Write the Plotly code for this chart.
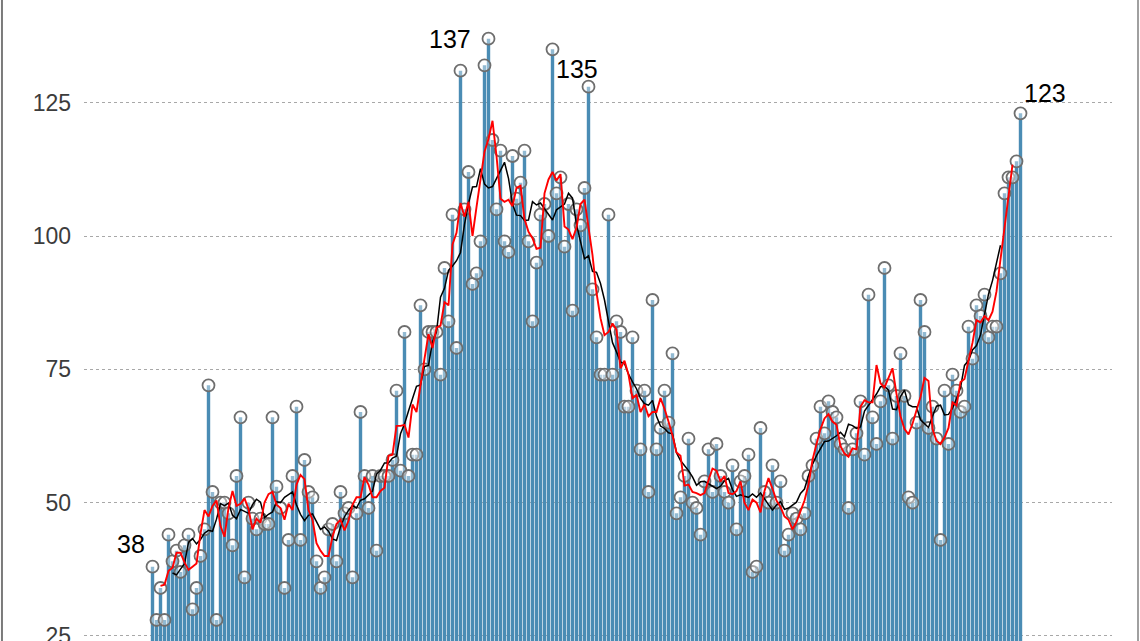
import pandas as pd
import plotly.graph_objects as go

# monthly values (index = position along x)
values = [
    38, 28, 34, 28, 44, 39, 41, 37, 42, 44,
    30, 34, 40, 45, 72, 52, 28, 50, 50, 48,
    42, 55, 66, 36, 50, 47, 45, 47, 46, 46,
    66, 53, 49, 34, 43, 55, 68, 43, 58, 52,
    51, 39, 34, 36, 45, 46, 39, 52, 48, 49,
    36, 48, 67, 55, 49, 55, 41, 55, 55, 55,
    58, 71, 56, 82, 55, 59, 59, 87, 75, 82,
    82, 82, 74, 94, 84, 104, 79, 131, 105, 112,
    91, 93, 99, 132, 137, 118, 105, 116, 99, 97,
    115, 107, 110, 116, 99, 84, 95, 104, 106, 100,
    135, 108, 111, 98, 106, 86, 105, 102, 109, 128,
    90, 81, 74, 74, 104, 74, 84, 82, 68, 68,
    81, 71, 60, 71, 52, 88, 60, 64, 71, 65,
    78, 48, 51, 55, 62, 50, 49, 44, 54, 60,
    52, 61, 55, 52, 50, 57, 45, 54, 55, 59,
    37, 38, 64, 52, 50, 57, 50, 54, 41, 44,
    48, 47, 45, 48, 55, 57, 62, 68, 63, 69,
    67, 66, 61, 60, 49, 60, 63, 69, 59, 89,
    66, 61, 69, 94, 72, 62, 70, 78, 70, 51,
    50, 65, 88, 82, 64, 68, 62, 43, 71, 61,
    74, 71, 67, 68, 83, 77, 87, 85, 89, 81,
    83, 83, 93, 108, 111, 111, 114, 123,
]
x = list(range(len(values)))

# labelled points: index into values
label_idx = [0, 84, 100, 217]

y_ticks = [25, 50, 75, 100, 125]

s = pd.Series(values)
ma_short = s.rolling(5, center=True).mean()   # red
ma_long = s.rolling(11, center=True).mean()   # black

fig = go.Figure()

fig.add_trace(go.Bar(
    x=x, y=values,
    marker=dict(color="#4a8cb4", line=dict(width=0)),
    hoverinfo="skip",
))

fig.add_trace(go.Scatter(
    x=x, y=values, mode="markers",
    marker=dict(symbol="circle", size=12, color="rgba(255,255,255,0.4)",
                line=dict(color="#6e6e6e", width=1.8)),
))

fig.add_trace(go.Scatter(
    x=x, y=ma_long, mode="lines",
    line=dict(color="black", width=1.5),
))

fig.add_trace(go.Scatter(
    x=x, y=ma_short, mode="lines",
    line=dict(color="#ff0000", width=1.9),
))

# value labels
label_style = {
    0: dict(xanchor="right", yanchor="bottom", xshift=-6, yshift=7),
    84: dict(xanchor="right", yanchor="middle", xshift=-16, yshift=0),
    100: dict(xanchor="left", yanchor="top", xshift=1, yshift=-4),
    217: dict(xanchor="left", yanchor="bottom", xshift=1, yshift=4),
}
for i in label_idx:
    fig.add_annotation(
        x=i, y=values[i], text=str(values[i]), showarrow=False,
        font=dict(size=25, color="black"), **label_style[i]
    )

# outer frame lines at the left and right edges of the picture
for xp, col in [(-0.0798, "#7a7a7a"), (1.0253, "#a0a0a0")]:
    fig.add_shape(type="line", xref="paper", yref="paper",
                  x0=xp, x1=xp, y0=0, y1=1,
                  line=dict(color=col, width=2))

fig.update_layout(
    width=1140, height=641,
    margin=dict(l=84, r=28, t=0, b=0, autoexpand=False),
    paper_bgcolor="white",
    plot_bgcolor="white",
    showlegend=False,
    bargap=0.15,
    font=dict(family="Liberation Sans, Arial, sans-serif"),
    xaxis=dict(range=[-17.125, 239.875], visible=False, automargin=False),
    yaxis=dict(
        range=[24.06, 144.25],
        tickvals=y_ticks,
        showgrid=True, gridcolor="#a8a8a8", gridwidth=1, griddash="3px,3px",
        zeroline=False, showline=False, ticks="",
        ticklabelstandoff=12,
        ticklabeloverflow="allow",
        automargin=False,
        tickfont=dict(size=23, color="#3c3c3c"),
    ),
)

fig.write_html("out.html", config={"displayModeBar": False},
               post_script="document.body.style.margin='0';")
